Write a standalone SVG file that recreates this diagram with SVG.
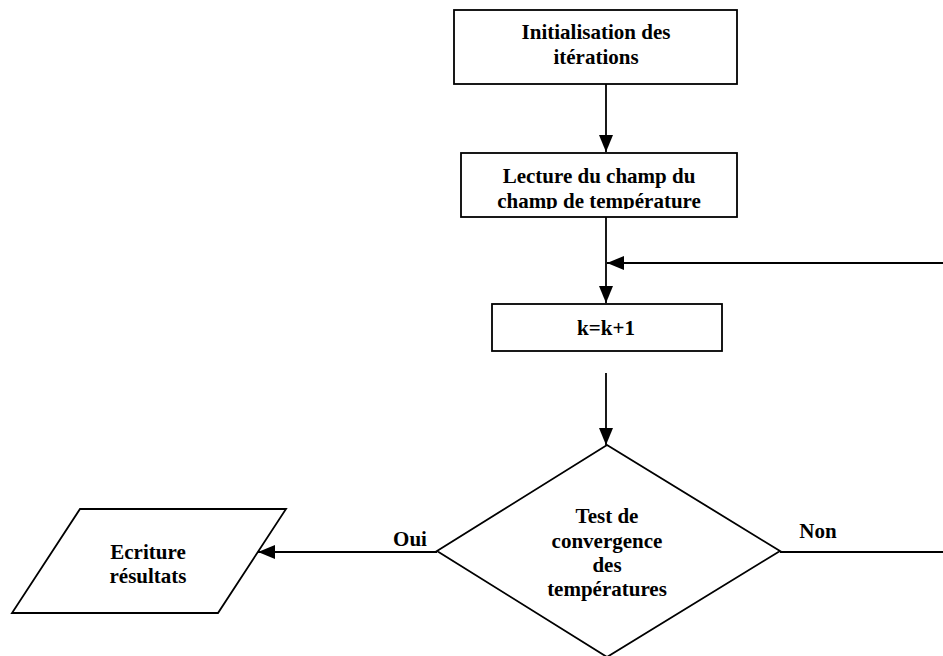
<svg xmlns="http://www.w3.org/2000/svg" width="943" height="656" viewBox="0 0 943 656">
<style>
.s{fill:#fff;stroke:#000;stroke-width:1.8}
.t{font-family:"Liberation Serif","Times New Roman",serif;font-weight:bold;font-size:21px;fill:#000;text-anchor:middle}
.c{fill:none;stroke:#000;stroke-width:1.8}
</style>
<defs>
<marker id="ah" markerUnits="userSpaceOnUse" markerWidth="18" markerHeight="16" refX="17" refY="8" orient="auto">
<path d="M0,1 L17,8 L0,15 Z" fill="#000"/>
</marker>
<clipPath id="cl2"><rect x="461" y="153" width="276" height="56"/></clipPath>
</defs>
<rect width="943" height="656" fill="#fff"/>
<g id="n1">
<rect class="s" x="454" y="10" width="283" height="74"/>
<text class="t" x="596" y="39">Initialisation des</text>
<text class="t" x="596" y="64">itérations</text>
</g>
<g id="n2">
<rect class="s" x="461" y="153" width="276" height="64"/>
<g clip-path="url(#cl2)">
<text class="t" x="599" y="183">Lecture du champ du</text>
<text class="t" x="599" y="208">champ de température</text>
</g>
</g>
<g id="n3">
<rect class="s" x="492" y="304" width="230" height="47"/>
<text class="t" x="606" y="335">k=k+1</text>
</g>
<g id="n4">
<polygon class="s" points="607,445 780,551 607,657 437,551"/>
<text class="t" x="607" y="523">Test de</text>
<text class="t" x="607" y="548">convergence</text>
<text class="t" x="607" y="572">des</text>
<text class="t" x="607" y="596">températures</text>
</g>
<g id="n5">
<polygon class="s" points="80,509 286,509 218,613 12,613"/>
<text class="t" x="148" y="559">Ecriture</text>
<text class="t" x="148" y="583">résultats</text>
</g>
<g id="connectors">
<line class="c" x1="606" y1="84" x2="606" y2="152" marker-end="url(#ah)"/>
<line class="c" x1="606" y1="217" x2="606" y2="303" marker-end="url(#ah)"/>
<line class="c" x1="943" y1="263" x2="607" y2="263" marker-end="url(#ah)"/>
<line class="c" x1="606" y1="373" x2="606" y2="445" marker-end="url(#ah)"/>
<line class="c" x1="437" y1="552" x2="258" y2="552" marker-end="url(#ah)"/>
<line class="c" x1="780" y1="552" x2="943" y2="552"/>
<text class="t" x="410" y="546">Oui</text>
<text class="t" x="818" y="538">Non</text>
</g>
</svg>
